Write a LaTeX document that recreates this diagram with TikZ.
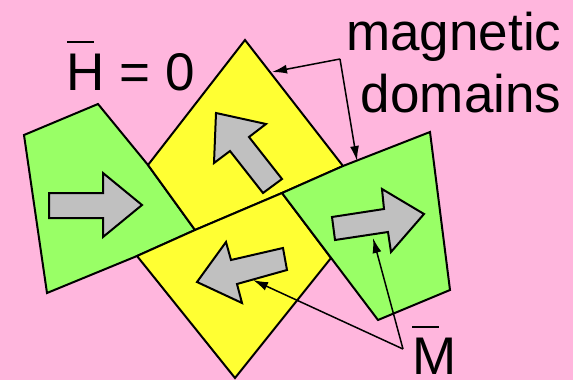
\documentclass[tikz,border=0pt]{standalone}
\usepackage{fontspec}
\setmainfont{Liberation Sans}
\usetikzlibrary{arrows.meta}
\definecolor{bgpink}{RGB}{255,182,221}
\definecolor{domyellow}{RGB}{255,255,51}
\definecolor{domgreen}{RGB}{153,255,102}
\definecolor{arrgray}{RGB}{192,192,192}
\tikzset{
  dombox/.style={draw=black, line width=2pt, line join=miter},
  yel/.style={dombox, fill=domyellow},
  grn/.style={dombox, fill=domgreen},
  marrow/.style={draw=black, line width=2pt, fill=arrgray, line join=miter},
  conn/.style={draw=black, line width=1.5pt, -{Latex[length=15pt,width=9pt]}},
  lbl/.style={inner sep=0pt, font=\fontsize{53}{60}\selectfont},
  bar/.style={draw=black, line width=2.5pt}
}
\begin{document}
\begin{tikzpicture}[x=1pt,y=-1pt]
\fill[bgpink] (0,0) rectangle (573,380);
\useasboundingbox (0,0) rectangle (573,380);
% domains
\draw[grn] (24,135) -- (98,104) -- (148,165) -- (195,230) -- (137,256) -- (47,293) -- cycle;
\draw[yel] (245,40) -- (343,166) -- (282,193) -- (195,230) -- (148,165) -- cycle;
\draw[yel] (137,256) -- (195,230) -- (282,193) -- (331,258) -- (235,378) -- cycle;
\draw[grn] (282,193) -- (343,166) -- (430,132) -- (450,290) -- (378,320) -- cycle;
% magnetization arrows
\draw[marrow] (49,193) -- (103,193) -- (103,173) -- (142,205) -- (103,237) -- (103,218) -- (49,218) -- cycle;
\draw[marrow] (216,113) -- (266,124) -- (249,137) -- (282,179) -- (263,193) -- (230,151) -- (214,163) -- cycle;
\draw[marrow] (197,282) -- (226,242) -- (231,260) -- (283,248) -- (287,270) -- (237,284) -- (242,303) -- cycle;
\draw[marrow] (332,217) -- (384,209) -- (382,189) -- (424,214) -- (391,252) -- (388,232) -- (335,240) -- cycle;
% labels
\node[lbl, anchor=base west] (hzero) at (66.5,90) {H = 0};
\draw[bar] (67,42) -- (94,42);
\node[lbl, anchor=base east] (mag) at (561.5,50) {magnetic};
\node[lbl, anchor=base east] (dom) at (561.5,112) {domains};
\node[lbl, anchor=base west] (mlab) at (412,374) {M};
\draw[bar] (412,327) -- (439,327);
% connectors
\coordinate (mdv) at (340,59);
\coordinate (mdt1) at (272,72);
\coordinate (mdt2) at (357,161);
\coordinate (mv) at (403,349);
\coordinate (mt1) at (373,238);
\coordinate (mt2) at (253,280);
\draw[conn] (mdv) -- (mdt1);
\draw[conn] (mdv) -- (mdt2);
\draw[conn] (mv) -- (mt1);
\draw[conn] (mv) -- (mt2);
\end{tikzpicture}
\end{document}
